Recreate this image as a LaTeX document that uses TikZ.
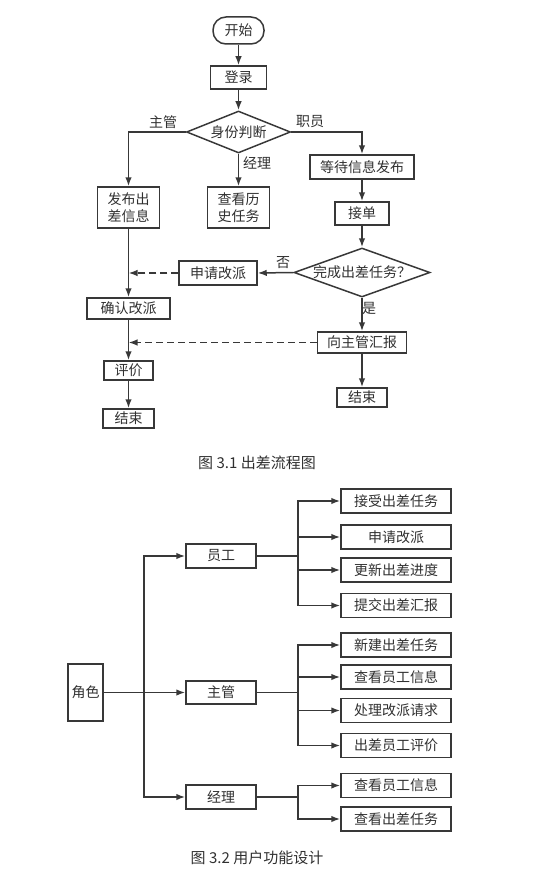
\documentclass[tikz,border=0pt]{standalone}
\usepackage{fontspec}
\setmainfont{Noto Sans CJK SC}
\usetikzlibrary{shapes.geometric,arrows.meta}

\definecolor{linegray}{HTML}{383838}
\definecolor{textgray}{HTML}{303030}

\begin{document}
\begin{tikzpicture}[x=1pt,y=-1pt,
  every node/.style={text=textgray,font=\fontsize{14pt}{17pt}\selectfont},
  box/.style={draw=linegray,line width=1.5pt,inner sep=0pt,align=center},
  startbox/.style={box,rounded corners=13pt},
  decision/.style={box,diamond,shape aspect=#1},
  funcbox/.style={box,minimum width=110pt,minimum height=24pt},
  wire/.style={draw=linegray,line width=1.5pt},
  conn/.style={wire,-{Latex[length=9pt,width=6.5pt]}},
  dashconn/.style={conn,dash pattern=on 7pt off 4pt},
  lbl/.style={inner sep=0pt},
  caption/.style={inner sep=0pt,font=\fontsize{15pt}{18pt}\selectfont}]
  \useasboundingbox (0,0) rectangle (537,883);

  \node[startbox,minimum width=51pt,minimum height=27pt] (start) at (238.5,30.5) {开始};
  \node[box,minimum width=56pt,minimum height=23pt] (login) at (238.5,77.5) {登录};
  \node[decision=2.5,minimum width=104pt,minimum height=42pt] (ident) at (238.5,132) {身份判断};
  \node[box,minimum width=62pt,minimum height=41pt] (publish) at (128.5,207.5) {发布出\\差信息};
  \node[box,minimum width=62pt,minimum height=41pt] (history) at (238.5,207.5) {查看历\\史任务};
  \node[box,minimum width=104pt,minimum height=24pt] (wait) at (362,167) {等待信息发布};
  \node[box,minimum width=54pt,minimum height=23pt] (take) at (362,213.5) {接单};
  \node[decision=2.8,minimum width=136pt,minimum height=49pt] (finish) at (362,272.5) {完成出差任务？};
  \node[box,minimum width=78pt,minimum height=24pt] (apply) at (218,273) {申请改派};
  \node[box,minimum width=83pt,minimum height=21pt] (confirm) at (128.5,308.5) {确认改派};
  \node[box,minimum width=89pt,minimum height=21pt] (report) at (362,342.5) {向主管汇报};
  \node[box,minimum width=49pt,minimum height=19pt] (rate) at (128.5,370.5) {评价};
  \node[box,minimum width=51pt,minimum height=19pt] (endleft) at (128.5,418.5) {结束};
  \node[box,minimum width=50pt,minimum height=19pt] (endright) at (362,397.5) {结束};

  \node[lbl] (lmgr) at (163,122) {主管};
  \node[lbl] (lemp) at (310,122) {职员};
  \node[lbl] (ldir) at (257,163) {经理};
  \node[lbl] (lno) at (283,263) {否};
  \node[lbl] (lyes) at (369,308) {是};

  \draw[conn] (start) -- (login);
  \draw[conn] (login) -- (ident);
  \draw[conn] (ident.west) -| (publish.north);
  \draw[conn] (ident.south) -- (history.north);
  \draw[conn] (ident.east) -| (wait.north);
  \draw[conn] (wait) -- (take);
  \draw[conn] (take) -- (finish.north);
  \draw[conn] (finish.west) -- (apply.east);
  \draw[dashconn] (apply.west) -- (apply.west -| publish.south);
  \draw[conn] (publish.south) -- (confirm.north);
  \draw[conn] (finish.south) -- (report.north);
  \draw[dashconn] (report.west) -- (report.west -| confirm.south);
  \draw[conn] (confirm) -- (rate);
  \draw[conn] (rate) -- (endleft);
  \draw[conn] (report) -- (endright);

  \node[caption] (cap1) at (257,463) {图 3.1 出差流程图};

  \node[box,minimum width=35pt,minimum height=57pt] (roles) at (85.5,692.5) {角色};
  \node[box,minimum width=70pt,minimum height=24pt] (staff) at (221,556) {员工};
  \node[box,minimum width=70pt,minimum height=23pt] (manager) at (221,692.5) {主管};
  \node[box,minimum width=70pt,minimum height=24pt] (director) at (221,797) {经理};

  \foreach \name/\y/\txt in {s1/501/接受出差任务,s2/537/申请改派,s3/570/更新出差进度,s4/605.5/提交出差汇报,
    m1/645/新建出差任务,m2/677/查看员工信息,m3/710.5/处理改派请求,m4/745.5/出差员工评价,
    d1/785.5/查看员工信息,d2/819/查看出差任务}
    \node[funcbox] (\name) at (396,\y) {\txt};

  \coordinate (trunk) at (144,692.5);
  \coordinate (sfork) at (298,556);
  \coordinate (mfork) at (298,692.5);
  \coordinate (dfork) at (298,797);

  \draw[conn] (roles.east) -- (manager.west);
  \draw[conn] (trunk) |- (staff.west);
  \draw[conn] (trunk) |- (director.west);

  \draw[wire] (staff.east) -- (sfork);
  \draw[wire] (manager.east) -- (mfork);
  \draw[wire] (director.east) -- (dfork);
  \foreach \name in {s1,s2,s3,s4}
    \draw[conn] (sfork) |- (\name.west);
  \foreach \name in {m1,m2,m3,m4}
    \draw[conn] (mfork) |- (\name.west);
  \foreach \name in {d1,d2}
    \draw[conn] (dfork) |- (\name.west);

  \node[caption] (cap2) at (257,858) {图 3.2 用户功能设计};
\end{tikzpicture}
\end{document}
